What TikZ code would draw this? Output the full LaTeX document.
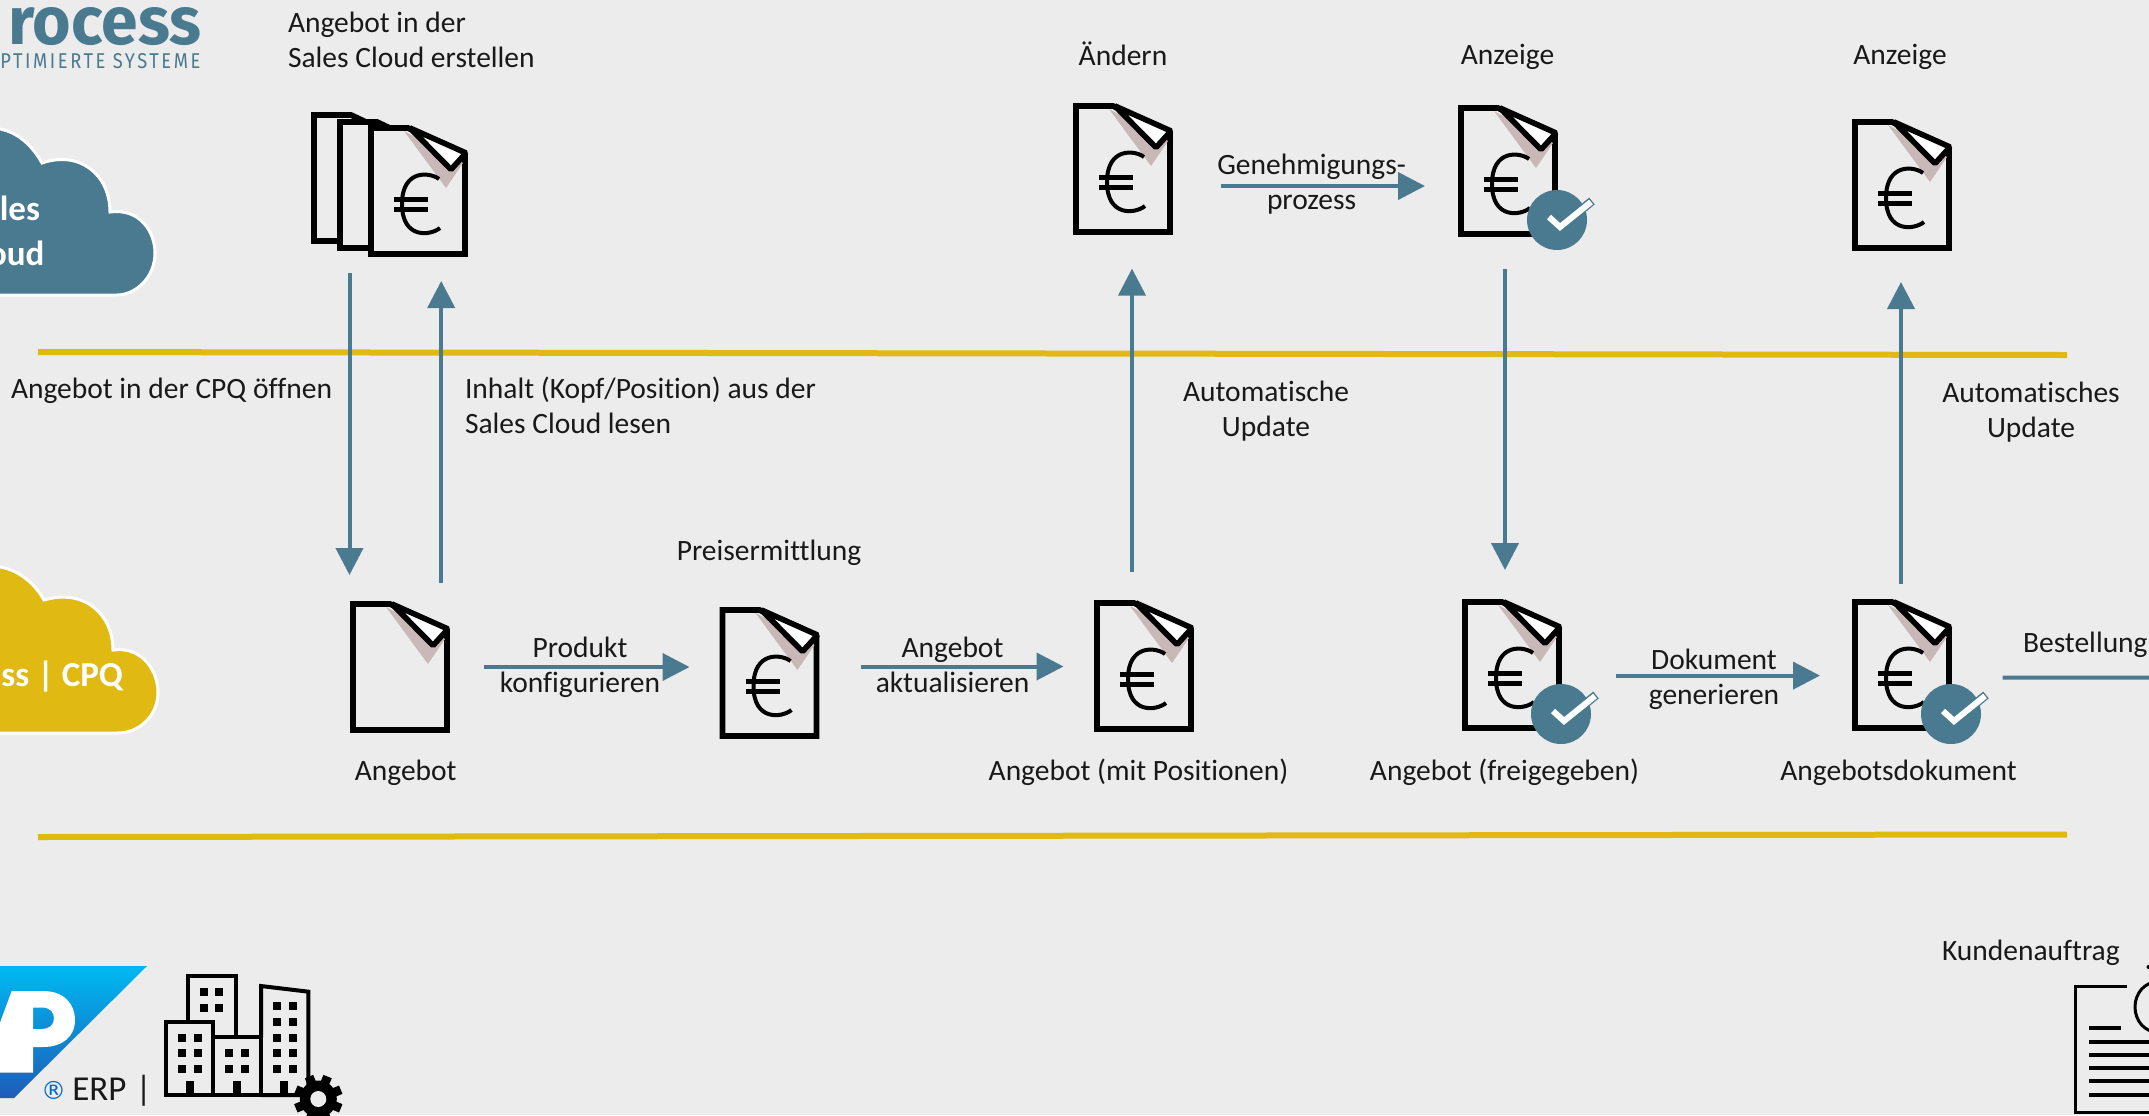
\documentclass[tikz,border=0pt]{standalone}
\usepackage{fontspec}
\setmainfont{Carlito}[Ligatures=NoCommon]
\newfontfamily\logofont{Fira Sans}
\newfontfamily\regfont{DejaVu Sans}
\usetikzlibrary{arrows.meta}
\definecolor{bgc}{HTML}{ECECEC}
\definecolor{tealc}{HTML}{4A7A8F}
\definecolor{yellowc}{HTML}{E0BA12}
\definecolor{shadowc}{HTML}{C9B8B8}
\definecolor{saptop}{HTML}{00B9F2}
\definecolor{sapbot}{HTML}{1E5CB8}
\tikzset{
  flowline/.style={draw=tealc,line width=2pt},
  flow/.style={flowline,-{Triangle[length=13.5pt,width=13.5pt]}},
  docbox/.style={inner sep=0pt,outer sep=0pt,minimum width=50pt,minimum height=66pt},
  lbl/.style={inner sep=0pt,outer sep=0pt,align=center,font=\fontsize{14.75}{17.5}\selectfont,text=black!90},
  lbll/.style={lbl,align=left},
  cloudtxt/.style={inner sep=0pt,outer sep=0pt,text=white,font=\fontsize{17.5}{20}\selectfont\bfseries},
  cloudshape/.style={draw=white,line width=1.5pt},
}
% page body
\newcommand{\pagebody}{%
  \draw[draw=black,fill=bgc,line width=2.9pt,line join=miter] (40,3) -- (3,3) -- (3,129) -- (97,129) -- (97,30) -- cycle;
}
\newcommand{\pagefold}{%
  \fill[shadowc] (36,6) -- (78,63) -- (95,38) -- cycle;
  \draw[draw=black,fill=white,line width=2.8pt,line join=bevel] (42,3) -- (98,28) -- (83,44.5) -- cycle;
}
\newcommand{\eurosign}{%
  \draw[line width=2pt,draw=black] (71,54) .. controls (62,47) and (34,44) .. (34,79) .. controls (34,114) and (62,111) .. (72,103);
  \draw[line width=2.5pt,draw=black] (26,74.5) -- (60,74.5) (26,84.5) -- (60,84.5);
}
\newcommand{\checkbadge}{%
  \fill[tealc] (99,115) circle (30);
  \draw[draw=tealc,line width=4.4pt,line join=miter,line cap=butt] (91,112) -- (102,122) -- (134,96);
  \draw[draw=white,line width=3pt,line join=miter,line cap=butt] (91,112) -- (102,122) -- (133,97);
}
% \docicon{name}{x}{y}{extra}
\newcommand{\docicon}[4]{%
  \begin{scope}[shift={(#2,#3)}]
    \node[docbox] (#1) at (50,66) {};
    \pagebody \pagefold #4
  \end{scope}
}
\begin{document}
\begin{tikzpicture}[x=0.5pt,y=-0.5pt]
\useasboundingbox (0,0) rectangle (2149,1115);
\clip (0,0) rectangle (2149,1115);
\fill[bgc] (0,0) rectangle (2149,1115);

% logo
\node[anchor=north west,inner sep=0pt,text=tealc] (logoa) at (8,7) {\resizebox{96.5pt}{18.5pt}{\logofont\bfseries rocess}};
\node[anchor=north west,inner sep=0pt,text=tealc] (logob) at (0,53) {\resizebox{100pt}{7.5pt}{\fontspec{Fira Sans}[LetterSpace=14]PTIMIERTE SYSTEME}};

% clouds
\path[cloudshape,fill=tealc] (-10,128) .. controls (15,128) and (32,145) .. (42,163) .. controls (80,150) and (110,175) .. (110,212) .. controls (140,208) and (155,232) .. (155,253) .. controls (155,278) and (135,295) .. (117,295) -- (-10,295) -- cycle;
\node[cloudtxt,anchor=base east] (cla) at (40,220) {les};
\node[cloudtxt,anchor=base east] (clb) at (44.5,265) {oud};
\path[cloudshape,fill=yellowc] (-10,566) .. controls (15,566) and (34,582) .. (44,600) .. controls (85,588) and (113,615) .. (113,650) .. controls (143,646) and (158,672) .. (158,692) .. controls (158,717) and (138,733) .. (118,733) -- (-10,733) -- cycle;
\node[cloudtxt,anchor=base east] (clc) at (123,686) {ss | CPQ};

% separators
\draw[draw=yellowc,line width=3pt] (38,352) -- (2067,355);
\draw[draw=yellowc,line width=3pt] (38,837) -- (2067,834.5);

% stack of pages
\node[inner sep=0pt,outer sep=0pt,minimum width=78.5pt,minimum height=72.5pt] (stack) at (389.5,184.5) {};
\begin{scope}[shift={(311,112)}]\pagebody\end{scope}
\begin{scope}[shift={(337,119)}]\pagebody\end{scope}
\begin{scope}[shift={(368,125)}]\pagebody\pagefold\eurosign\end{scope}

% documents
\docicon{doca}{350}{601}{}
\docicon{docb}{719.5}{607}{\eurosign}
\docicon{docc}{1094}{600}{\eurosign}
\docicon{docd}{1073}{103}{\eurosign}
\docicon{doce}{1458}{105}{\eurosign\checkbadge}
\docicon{docf}{1462}{599}{\eurosign\checkbadge}
\docicon{docg}{1852}{599}{\eurosign\checkbadge}
\docicon{doch}{1852}{119}{\eurosign}

% connectors
\draw[flow,shorten <=8pt,shorten >=13pt] ([xshift=-20pt]stack.south) -- ([xshift=-20pt]stack.south |- doca.north);
\draw[flow,shorten <=9pt,shorten >=12pt] ([xshift=20.6pt]doca.north) -- ([xshift=20.6pt]doca.north |- stack.south);
\draw[flow,shorten <=17pt,shorten >=15pt] (doca.east) -- (doca.east -| docb.west);
\draw[flow,shorten <=20.6pt,shorten >=15.25pt] ([yshift=3.25pt]docb.east) -- ([yshift=3.25pt]docb.east -| docc.west);
\draw[flow,shorten <=14.25pt,shorten >=16.8pt] ([xshift=-6pt]docc.north) -- ([xshift=-6pt]docc.north |- docd.south);
\draw[flow,shorten <=24pt,shorten >=16.5pt] ([yshift=-8.5pt]docd.east) -- ([yshift=-8.5pt]docd.east -| doce.west);
\draw[flow,shorten <=15.8pt,shorten >=14.5pt] ([xshift=-1.5pt]doce.south) -- ([xshift=-1.5pt]doce.south |- docf.north);
\draw[flow,shorten <=27pt,shorten >=16pt] ([yshift=-5.3pt]docf.east) -- ([yshift=-5.3pt]docf.east -| docg.west);
\draw[flow,shorten <=7.5pt,shorten >=15.5pt] ([xshift=-0.5pt]docg.north) -- ([xshift=-0.5pt]docg.north |- doch.south);
\coordinate (bestend) at (2155,677.7);
\draw[flowline,shorten <=25.35pt] ([yshift=-6.35pt]docg.east) -- (bestend);

% labels
\node[lbll,anchor=west] (t1) at (288,40) {Angebot in der\\Sales Cloud erstellen};
\node[lbl] (t2) at (1123,54) {Ändern};
\node[lbl] (t3) at (1507.5,57) {Anzeige};
\node[lbl] (t4) at (1900,57) {Anzeige};
\node[lbl] (t5) at (1311.6,184) {Genehmigungs-\\prozess};
\node[lbll,anchor=west] (t6) at (11,391) {Angebot in der CPQ öffnen};
\node[lbll,anchor=west] (t7) at (465,405) {Inhalt (Kopf/Position) aus der\\Sales Cloud lesen};
\node[lbl] (t8) at (1266,411) {Automatische\\Update};
\node[lbl] (t9) at (2031,412.5) {Automatisches\\Update};
\node[lbl] (t10) at (769,553) {Preisermittlung};
\node[lbl] (t11) at (580,667.5) {Produkt\\konfigurieren};
\node[lbl] (t12) at (952.5,665) {Angebot\\aktualisieren};
\node[lbl] (t13) at (1714,679) {Dokument\\generieren};
\node[lbll,anchor=west] (t14) at (2023,644.5) {Bestellung};
\node[lbl] (t15) at (405.7,773) {Angebot};
\node[lbl] (t16) at (1138.5,772) {Angebot (mit Positionen)};
\node[lbl] (t17) at (1504.5,772) {Angebot (freigegeben)};
\node[lbl] (t18) at (1898.5,773) {Angebotsdokument};
\node[lbll,anchor=west] (t19) at (1942,953) {Kundenauftrag};

% SAP logo
\path[top color=saptop,bottom color=sapbot] (-2,966) -- (147,966) -- (14,1098) -- (-2,1098) -- cycle;
\begin{scope}
  \clip (-2,966) -- (147,966) -- (14,1098) -- (-2,1098) -- cycle;
  \fill[white,even odd rule] (11.7,991) -- (43,991) .. controls (64,991) and (75,1004) .. (75,1020) .. controls (75,1037) and (62,1047) .. (43,1047) -- (33,1047) -- (33,1072.5) -- (-2,1072.5) -- (-2,1028) -- cycle
    (33,1007.5) -- (42,1007.5) .. controls (50,1007.5) and (54,1012) .. (54,1018.5) .. controls (54,1025) and (49,1029) .. (42,1029) -- (33,1029) -- cycle;
\end{scope}
\node[inner sep=0pt,anchor=center,text=blue!50!cyan!80!black,font=\fontsize{12.5}{15}\selectfont\regfont] (reg) at (53.5,1090) {®};
\node[inner sep=0pt,anchor=base west,font=\fontsize{17.5}{20}\selectfont,text=black!90] (erp) at (72,1100) {ERP\hspace{4.5pt}|};

% buildings
\begin{scope}[shift={(0,900)},x=0.1667pt,y=-0.1667pt]
  \draw[line width=2pt,draw=black,fill=bgc] (563,365) -- (563,228) -- (707,228) -- (707,412);
  \draw[line width=2pt,draw=black,fill=bgc] (640,412) -- (783,412) -- (783,585) -- (640,585);
  \draw[line width=2pt,draw=black] (783,412) -- (783,258) -- (925,275) -- (925,585) -- (783,585);
  \draw[line width=2pt,draw=black] (498,365) -- (640,365) -- (640,585) -- (498,585) -- cycle;
  \foreach \wx/\wy in {546/414,594/414,546/459,594/459,546/507,594/507,612/276,657/276,612/324,657/324,687/459,735/459,687/507,735/507,831/318,879/318,831/366,879/366,831/414,879/414,831/459,879/459,831/507,879/507}
    \fill[black] (\wx-12,\wy-12) rectangle (\wx+12,\wy+12);
  \foreach \dx in {569,711,853}
    \fill[black] (\dx-12,543) rectangle (\dx+12,585);
\end{scope}
% gear
\begin{scope}[shift={(318.3,1099)}]
  \fill[black] (0,0) circle (18.5);
  \foreach \ang in {0,45,...,315}
    \fill[black,rotate=\ang+22.5] (-4.5,-24.3) rectangle (4.5,-15);
  \fill[bgc] (0,0) circle (8);
\end{scope}

% customer order
\draw[line width=1.75pt,draw=black] (2127,986.5) -- (2075.5,986.5) -- (2075.5,1112.5) -- (2155,1112.5);
\foreach \ly in {1042,1055,1068,1081,1095}
  \draw[line width=2pt,draw=black] (2089,\ly) -- (2155,\ly);
\draw[line width=2pt,draw=black] (2089,1028) -- (2121,1028);
\draw[line width=1.5pt,draw=black] (2157,1007) ellipse (22 and 25);
\fill[black] (2148.5,967) circle (2);
\end{tikzpicture}
\end{document}
